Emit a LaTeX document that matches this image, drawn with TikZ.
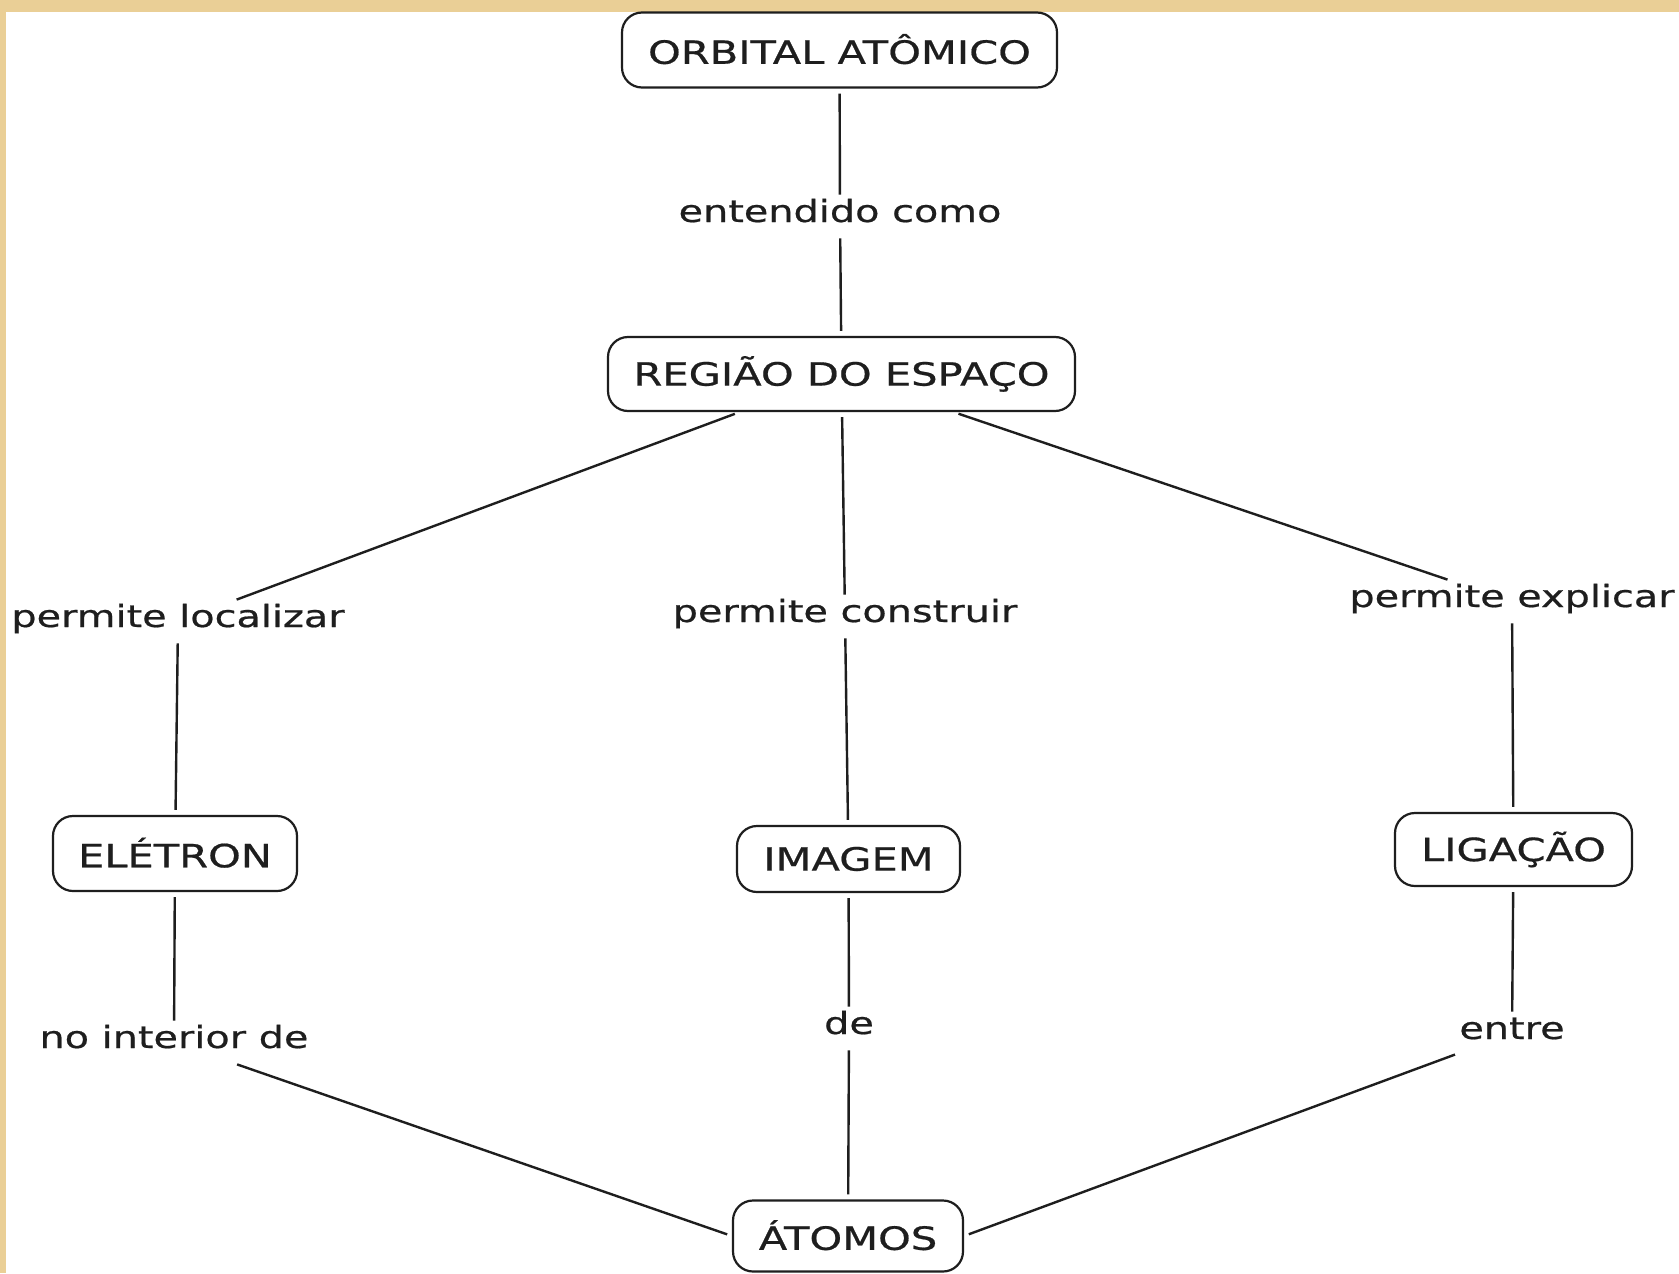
\documentclass[tikz,border=0pt]{standalone}
\usepackage{fontspec}
\setmainfont{DejaVu Sans}[FakeStretch=1.3,FakeBold=0.6]
\definecolor{beige}{RGB}{234,207,150}
\definecolor{ink}{RGB}{30,30,30}
\begin{document}
\begin{tikzpicture}[x=0.5pt,y=-0.5pt,
  concept/.style={draw=ink, line width=1.1pt, rounded corners=10pt, fill=white,
    text=ink, font=\fontsize{16}{19}\selectfont, inner sep=0pt,
    text height=12pt, text depth=0.4pt},
  lowtext/.style={text height=13.8pt, text depth=0pt},
  lbl/.style={text=ink, font=\fontsize{15.3}{18}\selectfont, inner xsep=2pt, inner ysep=0pt,
    text height=13.5pt, text depth=8pt, anchor=base},
  link/.style={draw=ink, line width=1.2pt},
  fromc/.style={shorten <=2.5pt},
  toc/.style={shorten >=2.5pt}
]
\useasboundingbox (0,0) rectangle (1679,1273);
\fill[white] (0,0) rectangle (1679,1273);
\fill[beige] (0,0) rectangle (1679,12);
\fill[beige] (0,0) rectangle (6,1273);

% concepts
\node[concept, lowtext, minimum width=217.5pt, minimum height=37.5pt] (orb) at (839.5,50) {ORBITAL ATÔMICO};
\node[concept, minimum width=233.5pt, minimum height=37pt] (reg) at (841.5,374) {REGIÃO DO ESPAÇO};
\node[concept, lowtext, minimum width=122pt, minimum height=37.5pt] (ele) at (175,853.5) {ELÉTRON};
\node[concept, minimum width=111.5pt, minimum height=33pt] (ima) at (848.5,859) {IMAGEM};
\node[concept, minimum width=118.5pt, minimum height=36.5pt] (lig) at (1513.5,849.5) {LIGAÇÃO};
\node[concept, lowtext, minimum width=115pt, minimum height=35.5pt] (ato) at (848,1236) {ÁTOMOS};

% linking phrases (placed by baseline)
\node[lbl] (l1) at (840,222) {entendido como};
\node[lbl] (l2) at (178,627) {permite localizar};
\node[lbl] (l3) at (845,622) {permite construir};
\node[lbl] (l4) at (1512,607) {permite explicar};
\node[lbl] (l5) at (174,1048) {no interior de};
\node[lbl] (l6) at (849,1034) {de};
\node[lbl] (l7) at (1512,1039) {entre};

% connectors
\draw[link, fromc] (orb) -- (l1);
\draw[link, toc] (l1) -- (reg);
\draw[link, fromc] (reg) -- (l2);
\draw[link, fromc] (reg) -- (l3);
\draw[link, fromc] (reg) -- (l4);
\draw[link, toc] (l2) -- (ele);
\draw[link, toc] (l3) -- (ima);
\draw[link, toc] (l4) -- (lig);
\draw[link, fromc] (ele) -- (l5);
\draw[link, fromc] (ima) -- (l6);
\draw[link, fromc] (lig) -- (l7);
\draw[link, toc] (l5) -- (ato.west);
\draw[link, toc] (l6) -- (ato);
\draw[link, toc] (l7) -- (ato.east);
\end{tikzpicture}
\end{document}
